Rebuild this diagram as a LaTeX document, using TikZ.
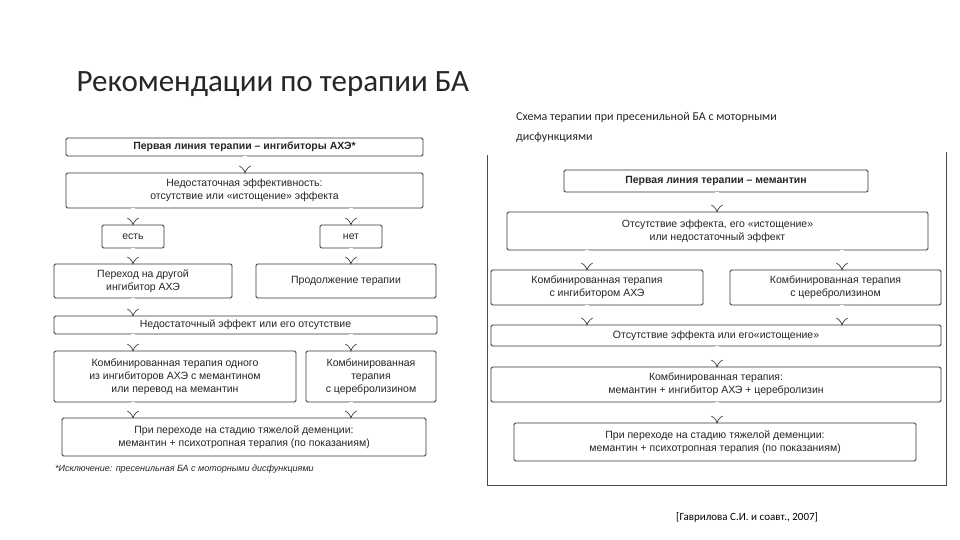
\documentclass[tikz,border=0pt]{standalone}
\usepackage{fontspec}
\setmainfont{Liberation Sans}
\newfontfamily\carlitofont{Carlito}
\usetikzlibrary{arrows.meta}
\begin{document}
\begin{tikzpicture}[x=1pt,y=-1pt,
  bx/.style={draw=black!80,line width=0.9pt,rounded corners=1.5pt,inner sep=0pt,align=center,font=\fontsize{10.5}{13}\selectfont,text=black!85},
  dar/.style={draw=black!75,double=white,double distance=3.5pt,line width=0.7pt,-{Implies},shorten >=-1pt}]
\useasboundingbox (0,0) rectangle (960,540);
\fill[white] (0,0) rectangle (960,540);
\node[anchor=base west,font=\carlitofont\fontsize{31}{36}\selectfont,text=black!85] (title) at (73,92) {Рекомендации по терапии БА};
\node[anchor=north west,align=left,font=\carlitofont\fontsize{12}{20}\selectfont,inner sep=0pt,text=black!85] (sub) at (516,112) {Схема терапии при пресенильной БА с моторными\\дисфункциями};
\node[anchor=base west,font=\carlitofont\fontsize{11}{13}\selectfont,inner sep=0pt] (cite) at (676,520) {[Гаврилова С.И. и соавт., 2007]};
% left
\newcommand\bxn[6]{\node[bx,minimum width={#3-#2},minimum height={#5-#4}] (#1) at ({(#2+#3)/2},{(#4+#5)/2}) {#6};}
\bxn{L1}{66}{423}{138}{156}{\bfseries Первая линия терапии -- ингибиторы АХЭ*}
\bxn{L2}{66}{423}{173}{208}{Недостаточная эффективность:\\отсутствие или «истощение» эффекта}
\bxn{Le}{102}{164}{225}{248}{есть}
\bxn{Ln}{320}{382}{225}{248}{нет}
\bxn{Lp}{54}{232}{264}{298}{Переход на другой\\ингибитор АХЭ}
\bxn{Lc}{256}{436}{264}{298}{Продолжение терапии}
\bxn{L4}{54}{437}{316}{334}{Недостаточный эффект или его отсутствие}
\bxn{L5a}{54}{296}{351}{402}{Комбинированная терапия одного\\из ингибиторов АХЭ с мемантином\\или перевод на мемантин}
\bxn{L5b}{306}{436}{351}{402}{Комбинированная\\терапия\\с церебролизином}
\bxn{L6}{62}{426}{418}{456}{При переходе на стадию тяжелой деменции:\\мемантин + психотропная терапия (по показаниям)}
\node[anchor=west,inner sep=0pt,font=\itshape\fontsize{9}{11}\selectfont,text=black!85] (fn) at (55,469) {*Исключение: пресенильная БА с моторными дисфункциями};
\coordinate (xa) at (133,0); \coordinate (xb) at (351,0); \coordinate (xc) at (245,0);
\draw[dar] (L1.south -| xc) -- (L2.north -| xc);
\draw[dar] (L2.south -| xa) -- (Le.north -| xa);
\draw[dar] (L2.south -| xb) -- (Ln.north -| xb);
\draw[dar] (Le.south -| xa) -- (Lp.north -| xa);
\draw[dar] (Ln.south -| xb) -- (Lc.north -| xb);
\draw[dar] (Lp.south -| xa) -- (L4.north -| xa);
\draw[dar] (L4.south -| xa) -- (L5a.north -| xa);
\draw[dar] (L4.south -| xb) -- (L5b.north -| xb);
\draw[dar] (L5a.south -| xa) -- (L6.north -| xa);
\draw[dar] (L5b.south -| xb) -- (L6.north -| xb);
% right
\draw[black!70,line width=0.8pt] (487,155) -- (487,485) -- (946,485) -- (946,152);
\bxn{R1}{564}{868}{170}{192}{\bfseries Первая линия терапии -- мемантин}
\bxn{R2}{507}{928}{212}{250}{Отсутствие эффекта, его «истощение»\\или недостаточный эффект}
\bxn{R3a}{491}{703}{270}{305}{Комбинированная терапия\\с ингибитором АХЭ}
\bxn{R3b}{730}{941}{270}{305}{Комбинированная терапия\\с церебролизином}
\bxn{R4}{491}{941}{325}{346}{Отсутствие эффекта или его«истощение»}
\bxn{R5}{491}{941}{367}{402}{Комбинированная терапия:\\мемантин + ингибитор АХЭ + церебролизин}
\bxn{R6}{514}{916}{423}{461}{При переходе на стадию тяжелой деменции:\\мемантин + психотропная терапия (по показаниям)}
\coordinate (ya) at (587,0); \coordinate (yb) at (842,0); \coordinate (yc) at (717,0);
\draw[dar] (R1.south -| yc) -- (R2.north -| yc);
\draw[dar] (R2.south -| ya) -- (R3a.north -| ya);
\draw[dar] (R2.south -| yb) -- (R3b.north -| yb);
\draw[dar] (R3a.south -| ya) -- (R4.north -| ya);
\draw[dar] (R3b.south -| yb) -- (R4.north -| yb);
\draw[dar] (R4.south -| yc) -- (R5.north -| yc);
\draw[dar] (R5.south -| yc) -- (R6.north -| yc);
\end{tikzpicture}
\end{document}
